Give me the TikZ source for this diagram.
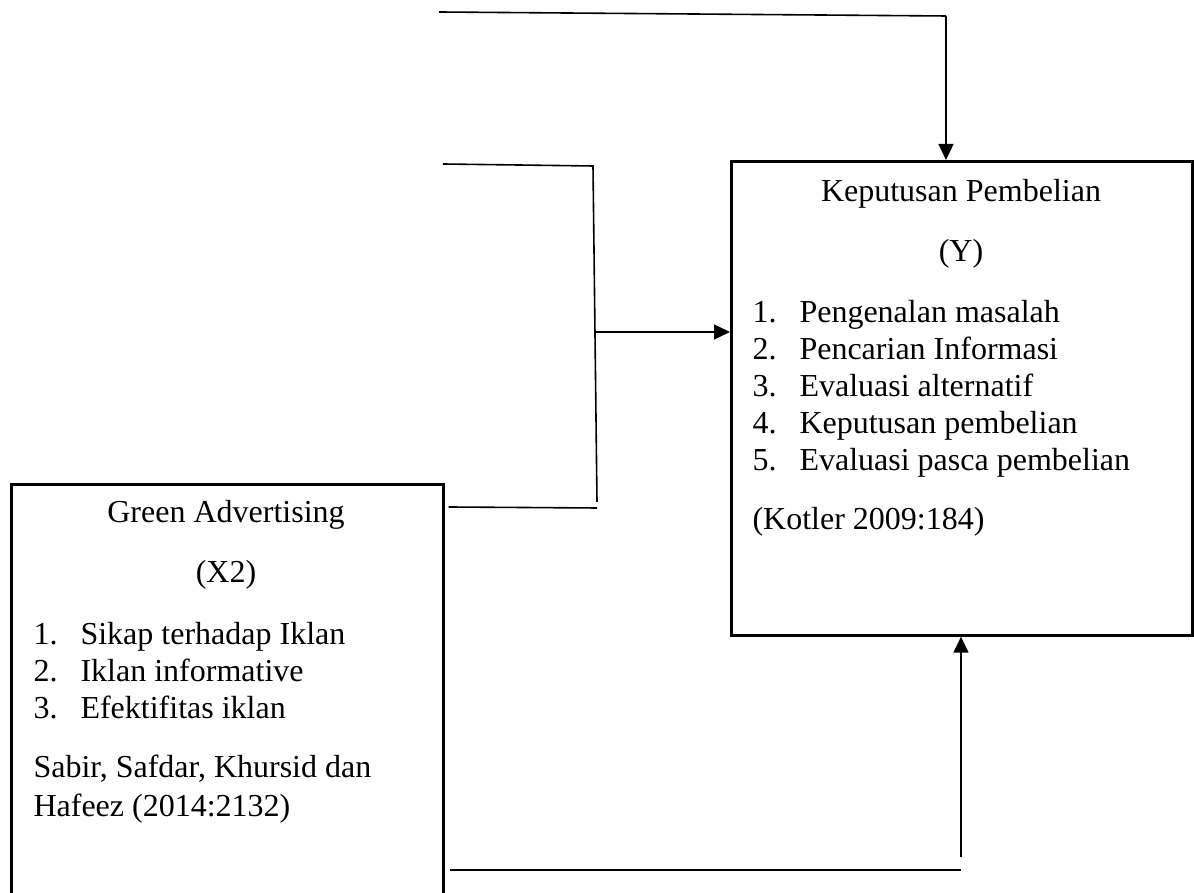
\documentclass[tikz,border=0pt]{standalone}
\usepackage{fontspec}
\setmainfont{Liberation Serif}
\usetikzlibrary{arrows.meta}

\tikzset{
  varbox/.style={draw, line width=1pt, inner sep=0pt},
  conn/.style={line width=0.6pt},
  arr/.style={conn, -{Triangle[length=6pt,width=5.6pt]}},
  txt/.style={inner sep=0pt, font=\fontsize{12}{13.8}\selectfont},
}

\begin{document}
\begin{tikzpicture}[x=0.375pt, y=-0.375pt]
  \useasboundingbox (0,0) rectangle (1194,893);
  \clip (0,0) rectangle (1194,893);

  % boxes
  \node[varbox, anchor=north west, minimum width=461*0.375pt, minimum height=474*0.375pt] (Y) at (730,160) {};
  \node[varbox, anchor=north west, minimum width=432*0.375pt, minimum height=430*0.375pt] (X2) at (10,483) {};

  % Y text
  \node[txt, anchor=base] (yTitle) at (961,202) {Keputusan Pembelian};
  \node[txt, anchor=base] (yVar) at (961,262) {(Y)};
  \foreach \i/\t [count=\k from 0] in {1/Pengenalan masalah, 2/Pencarian Informasi,
      3/Evaluasi alternatif, 4/Keputusan pembelian, 5/Evaluasi pasca pembelian} {
    \node[txt, anchor=base west] (yn\i) at (752,323+36.8*\k) {\i.};
    \node[txt, anchor=base west] (y\i) at (799,323+36.8*\k) {\t};
  }
  \node[txt, anchor=base west] (yRef) at (752,530) {(Kotler 2009:184)};

  % X2 text
  \node[txt, anchor=base] (xTitle) at (226,523) {Green Advertising};
  \node[txt, anchor=base] (xVar) at (226,583) {(X2)};
  \foreach \i/\t [count=\k from 0] in {1/Sikap terhadap Iklan, 2/Iklan informative,
      3/Efektifitas iklan} {
    \node[txt, anchor=base west] (xn\i) at (33,645+36.8*\k) {\i.};
    \node[txt, anchor=base west] (x\i) at (80,645+36.8*\k) {\t};
  }
  \node[txt, anchor=base west] (xRef1) at (33,778) {Sabir, Safdar, Khursid dan};
  \node[txt, anchor=base west] (xRef2) at (33,817) {Hafeez (2014:2132)};

  % free ends of the connectors
  \coordinate (topL) at (439,12);
  \coordinate (topR) at (946,16);
  \coordinate (midL) at (443,164);
  \coordinate (midT) at (593,166);
  \coordinate (midB) at (597,502);
  \coordinate (midX) at (595,332);
  \coordinate (lowR) at (597,508);
  \coordinate (botR) at (961,870);
  \coordinate (botV) at (961,857);

  % connectors
  \draw[conn] (topL) -- (topR);
  \draw[arr] (topR) -- (topR |- Y.north);
  \draw[conn] (midL) -- (midT) -- (midB);
  \draw[conn] (X2.east |- lowR) ++(4,-1) -- (lowR);
  \draw[arr] (midX) -- (midX -| Y.west);
  \draw[conn] (X2.east |- botR) ++(5,0) -- (botR);
  \draw[arr] (botV) -- (botV |- Y.south);
\end{tikzpicture}
\end{document}
